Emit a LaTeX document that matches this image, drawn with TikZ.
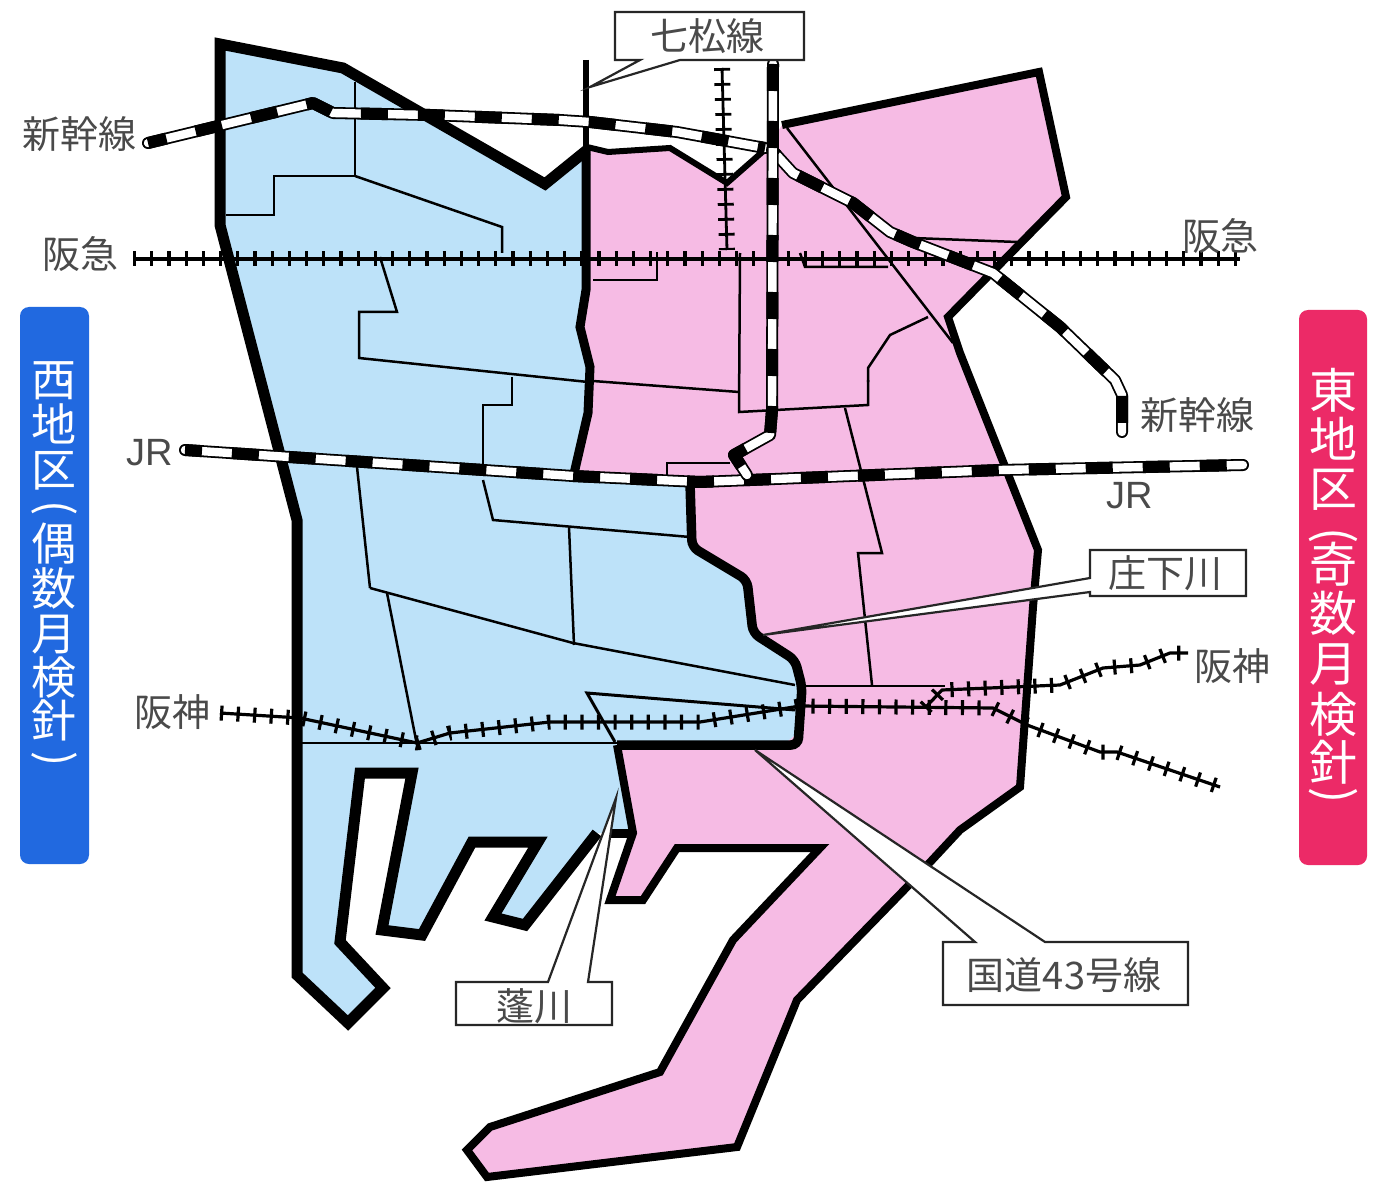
\documentclass[tikz,border=0pt]{standalone}
\usepackage{graphicx}
\usepackage{fontspec}
\setmainfont{Noto Sans CJK JP}
\newfontfamily\latinf{Liberation Sans}
\definecolor{bluefill}{HTML}{BDE2F9}
\definecolor{pinkfill}{HTML}{F6BBE4}
\definecolor{westside}{HTML}{2169E0}
\definecolor{eastside}{HTML}{EC2A67}
\definecolor{labelgray}{HTML}{4A4A4A}
\newcommand{\fs}[1]{\fontsize{#1}{#1}\selectfont}
\newcommand{\vparen}[1]{\rotatebox[origin=c]{-90}{#1}}
\newcommand{\shinrail}[2][0]{%
  \draw[line width=12pt,black,line cap=round,line join=round] #2;
  \draw[line width=8.4pt,white,line cap=round,line join=round] #2;
  \draw[line width=12pt,black,line join=round,dash pattern=on 27pt off 30pt,dash phase=#1pt] #2;
}
\newcommand{\track}[2][14pt]{%
  \draw[line width=3.2pt,black,line join=round] #2;
  \draw[line width=15pt,black,dash pattern=on 3.2pt off #1,line join=round] #2;
}
\tikzset{
  x=1pt,y=-1pt,
  border/.style={line width=#1,black,line join=miter,miter limit=3},
  thinline/.style={line width=2.5pt,black,line join=miter},
  callout/.style={fill=white,draw=black!85,line width=2.2pt,line join=miter},
  maplabel/.style={text=labelgray,inner sep=0pt,font=\fs{38}},
  sidebox/.style={rounded corners=9pt,minimum width=#1,inner sep=0pt},
  sidetext/.style={text=white,inner sep=0pt,align=center},
}
\begin{document}
\begin{tikzpicture}
\useasboundingbox (0,0) rectangle (1387,1182);
\fill[white] (0,0) rectangle (1387,1182);
% side panels
\node[sidebox=69pt,fill=westside,minimum height=557pt] (westpanel) at (54.5,585.5) {};
\node[sidebox=68pt,fill=eastside,minimum height=555pt] (eastpanel) at (1333,587.5) {};
\node[sidetext,font=\fontsize{45}{45}\selectfont,anchor=north] (westtext) at (54,361) {西\\地\\区\\[-9pt]\vparen{(}\\[-7pt]偶\\数\\月\\[-1pt]検\\[-2pt]針\\[-9pt]\vparen{)}};
\node[sidetext,font=\fontsize{48}{49}\selectfont,anchor=north] (easttext) at (1333,368) {東\\地\\区\\[-5pt]\vparen{(}\\[-17pt]奇\\数\\[1pt]月\\[2pt]検\\[-1pt]針\\[-19pt]\vparen{)}};
% fills
\fill[bluefill] (220,44)--(343,68)--(545,184)--(587,150)--(587,290)--(580,327)--(590,367)--(588,413)--(573,478)--(690,483)--(692,547)--(747,580)--(753,633)--(795,660)--(802,687)--(798,733)--(783,745)--(617,745)--(633,833)--(597,833)--(525,925)--(493,917)--(538,842)--(472,842)--(422,935)--(382,930)--(412,773)--(360,773)--(340,942)--(383,988)--(348,1023)--(297,975)--(297,520)--(220,225)--cycle;
\fill[pinkfill] (587,147)--(608,152)--(670,148)--(727,183)--(768,147)--(782,125)--(1039,72)--(1066,197)--(948,317)--(960,353)--(1038,550)--(1033,607)--(1020,787)--(960,830)--(907,887)--(797,1000)--(737,1147)--(487,1177)--(467,1150)--(490,1127)--(660,1072)--(733,940)--(820,848)--(677,848)--(643,900)--(610,900)--(633,833)--(617,745)--(783,745)--(798,733)--(802,687)--(795,660)--(753,633)--(747,580)--(692,547)--(690,483)--(573,478)--(588,413)--(590,367)--(580,327)--(587,290)--cycle;
% thin district lines, west
\draw[thinline] (355,82)--(355,176)--(274,176)--(274,215)--(226,215);
\draw[thinline] (355,176)--(502,227)--(502,253);
\draw[thinline] (380,257)--(397,312)--(359,312)--(359,358)--(588,382);
\draw[thinline] (512,377)--(512,405)--(483,405)--(483,475);
\draw[thinline] (357,467)--(370,588);
\draw[thinline] (483,480)--(493,520)--(690,537);
\draw[thinline] (569,527)--(574,645);
\draw[thinline] (370,588)--(573,643)--(795,685);
\draw[thinline] (387,593)--(417,745);
\draw[thinline] (297,743)--(617,743);
\draw[thinline,line width=3pt] (795,710)--(587,693)--(615,742);
% thin district lines, east
\draw[thinline] (593,280)--(657,280)--(657,252);
\draw[thinline] (740,253)--(739,412)--(868,405)--(868,380);
\draw[thinline] (593,381)--(739,392);
\draw[thinline] (800,253)--(805,267)--(888,267);
\draw[thinline] (787,128)--(953,343);
\draw[thinline] (928,317)--(890,335)--(868,368)--(868,382);
\draw[thinline] (913,238)--(1017,242);
\draw[thinline] (845,408)--(882,553)--(858,553)--(872,685);
\draw[thinline] (667,478)--(667,463)--(730,463);
\draw[thinline] (805,686)--(945,686);
% thick borders
\draw[border=11pt] (587,150)--(545,184)--(343,68)--(220,44)--(220,225)--(297,520)--(297,975)--(348,1023)--(383,988)--(340,942)--(360,773)--(412,773)--(382,930)--(422,935)--(472,842)--(538,842)--(493,917)--(525,925)--(597,833);
\draw[border=9pt] (608,833)--(633,833);
\draw[border=6pt] (586,60)--(586,150);
\draw[border=9pt] (586,150)--(586,290)--(580,327)--(590,367)--(588,413)--(573,478);
\draw[border=9.5pt,rounded corners=7pt] (690,483)--(692,547)--(747,580)--(753,633)--(795,660)--(802,687)--(798,745)--(617,745);
\draw[border=8pt] (617,745)--(633,833)--(610,900)--(643,900)--(677,848)--(820,848)--(733,940)--(660,1072)--(490,1127)--(467,1150)--(487,1177)--(737,1147)--(797,1000)--(907,887)--(960,830)--(1020,787)--(1033,607)--(1038,550)--(960,353)--(948,317)--(1066,197)--(1039,72)--(782,125);
\draw[border=6pt] (587,147)--(608,152)--(670,148)--(727,183)--(768,147);
% rails
\track{(133,259)--(1240,259)}
\draw[line width=2.8pt] (722,68)--(727,250);
\draw[line width=16pt,dash pattern=on 2.8pt off 12.2pt] (722,68)--(727,250);
\track[13.4pt]{(220,713)--(300,718)--(417,743)--(450,733)--(550,722)--(700,722)--(800,706)--(993,708)--(1027,725)--(1100,752)--(1117,752)--(1220,787)}
\track[13.4pt]{(925,708)--(942,690)--(1060,685)--(1103,668)--(1140,665)--(1170,653)--(1188,653)}
\shinrail[8]{(148,143)--(313,103)--(333,113)--(430,115)--(560,120)--(590,122)--(677,132)--(765,148)}
\shinrail[10]{(185,450)--(573,476)--(700,482)--(1000,470)--(1243,465)}
\shinrail[20]{(772,150)--(793,173)--(853,203)--(890,232)--(913,242)--(993,273)--(1060,327)--(1115,380)--(1122,395)--(1122,432)}
\shinrail[0]{(773,64)--(772,410)--(770,435)--(734,455)--(747,475)}
% callouts
\draw[callout] (615,12)--(804,12)--(804,60)--(680,60)--(590,87)--(640,60)--(615,60)--cycle;
\node[maplabel] (shichimatsu) at (707,36) {七松線};
\draw[callout] (1090,550)--(1246,550)--(1246,596)--(1090,596)--(1090,592)--(763,635)--(1090,578)--cycle;
\node[maplabel] (shoge) at (1165,573) {庄下川};
\draw[callout] (943,942)--(975,942)--(755,750)--(1045,942)--(1188,942)--(1188,1005)--(943,1005)--cycle;
\node[maplabel] (route43) at (1064,975) {国道43号線};
\draw[callout] (456,982)--(548,982)--(616,798)--(588,982)--(612,982)--(612,1025)--(456,1025)--cycle;
\node[maplabel] (yomogi) at (534,1006) {蓬川};
% rail labels
\node[maplabel] (shinw) at (80,134) {新幹線};
\node[maplabel] (hkw) at (80,254) {阪急};
\node[maplabel,font=\latinf\fs{38}] (jrw) at (150,453) {JR};
\node[maplabel] (hsw) at (172,712) {阪神};
\node[maplabel] (shine) at (1197,415) {新幹線};
\node[maplabel] (hke) at (1220,236) {阪急};
\node[maplabel,font=\latinf\fs{38}] (jre) at (1130,496) {JR};
\node[maplabel] (hse) at (1232,666) {阪神};
\end{tikzpicture}
\end{document}
